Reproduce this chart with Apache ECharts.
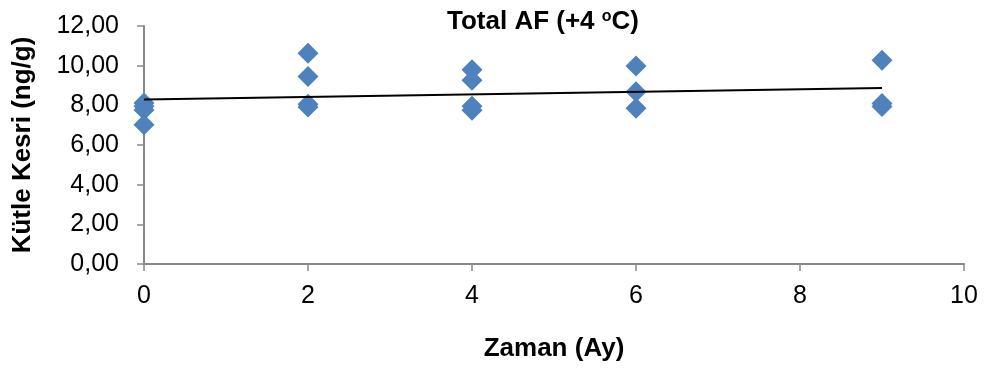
<!DOCTYPE html>
<html>
<head>
<meta charset="utf-8">
<script src="https://cdn.jsdelivr.net/npm/echarts@6/dist/echarts.min.js"></script>
<style>
  html, body { margin: 0; padding: 0; background: #fff; }
  #chart { width: 988px; height: 371px; }
</style>
</head>
<body>
<div id="chart"></div>
<script>
// Months (x) and mass fraction values (y) for each measurement
const months = [0, 0, 0, 0, 2, 2, 2, 2, 4, 4, 4, 4, 6, 6, 6, 9, 9, 9];
const values = [8.12, 7.95, 7.77, 7.02, 10.62, 9.45, 8.05, 7.92, 9.80, 9.26, 7.95, 7.75, 9.98, 8.69, 7.85, 10.27, 8.09, 7.94];
// Linear trend line endpoints as drawn in the reference
const trendX = [0, 9];
const trendY = [8.30, 8.87];
const xTicks = [0, 2, 4, 6, 8, 10];
const yTicks = [0, 2, 4, 6, 8, 10, 12];

const scatterData = months.map((m, i) => [m, values[i]]);
const trendData = trendX.map((x, i) => [x, trendY[i]]);

const FONT = '"Liberation Sans", Arial, sans-serif';
const axisColor = '#898989';

const chart = echarts.init(document.getElementById('chart'), null, { renderer: 'canvas' });
chart.setOption({
  animation: false,
  backgroundColor: '#ffffff',
  title: {
    text: '{m|Total AF (+4 }{s|o}{m|C)}',
    left: 442,
    top: 0,
    textStyle: {
      rich: {
        m: { fontFamily: FONT, fontSize: 26, fontWeight: 'bold', color: '#000', lineHeight: 30, verticalAlign: 'bottom' },
        s: { fontFamily: FONT, fontSize: 16, fontWeight: 'bold', color: '#000', lineHeight: 16, verticalAlign: 'top', padding: [4, 0, 0, 0] }
      }
    }
  },
  grid: { left: 144, right: 24, top: 26, bottom: 107, outerBoundsMode: 'none', containLabel: false },
  xAxis: {
    type: 'value',
    min: xTicks[0],
    max: xTicks[xTicks.length - 1],
    interval: 2,
    name: 'Zaman (Ay)',
    nameLocation: 'middle',
    nameGap: 72,
    nameTextStyle: { fontFamily: FONT, fontSize: 26, fontWeight: 'bold', color: '#000' },
    axisLine: { show: true, onZero: false, lineStyle: { color: axisColor, width: 2 } },
    axisTick: { show: true, inside: false, length: 7, lineStyle: { color: axisColor, width: 1.5 } },
    axisLabel: { fontFamily: FONT, fontSize: 25, color: '#000', margin: 20 },
    splitLine: { show: false }
  },
  yAxis: {
    type: 'value',
    min: yTicks[0],
    max: yTicks[yTicks.length - 1],
    interval: 2,
    name: 'Kütle Kesri (ng/g)',
    nameLocation: 'middle',
    nameGap: 108,
    nameTextStyle: { fontFamily: FONT, fontSize: 26, fontWeight: 'bold', color: '#000' },
    axisLine: { show: true, onZero: false, lineStyle: { color: axisColor, width: 2 } },
    axisTick: { show: true, inside: false, length: 7, lineStyle: { color: axisColor, width: 1.5 } },
    axisLabel: {
      fontFamily: FONT, fontSize: 25, color: '#000', margin: 25,
      formatter: v => v.toFixed(2).replace('.', ',')
    },
    splitLine: { show: false }
  },
  series: [
    {
      type: 'scatter',
      data: scatterData,
      symbol: 'diamond',
      symbolSize: 21,
      itemStyle: { color: '#4F81BD', opacity: 1 },
      z: 2
    },
    {
      type: 'line',
      data: trendData,
      showSymbol: false,
      symbol: 'none',
      lineStyle: { color: '#000', width: 2 },
      z: 3
    }
  ]
});
</script>
</body>
</html>
